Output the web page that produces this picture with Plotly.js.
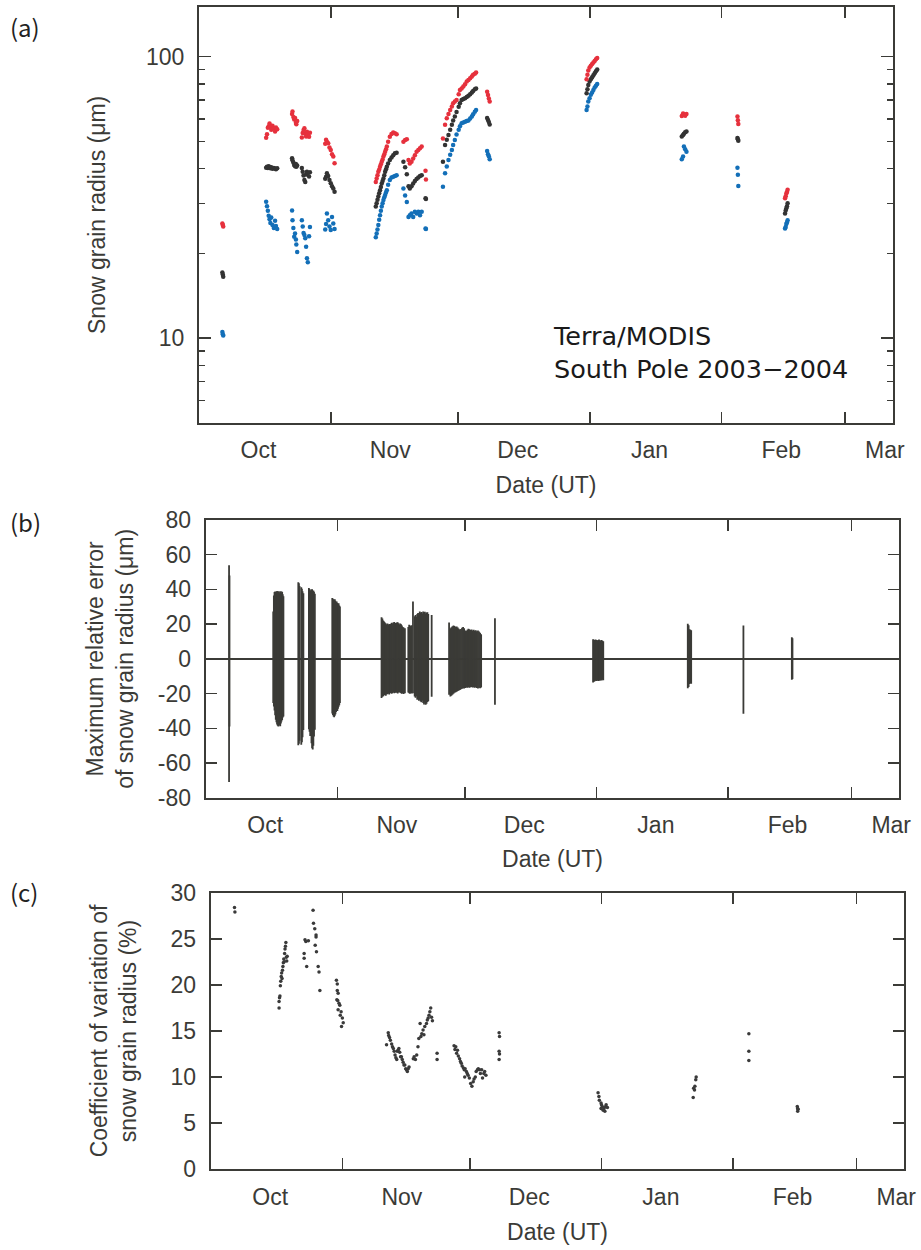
<!DOCTYPE html>
<html><head><meta charset="utf-8">
<script src="https://cdn.plot.ly/plotly-3.0.1.min.js"></script>
<style>html,body{margin:0;padding:0;background:#fff}#chart{width:921px;height:1250px}</style>
</head><body><div id="chart"></div>
<script>
// ---------- axis labels (days since 2003-10-01) ----------
const monthStartDays = [31, 61, 92, 123, 152];           // Nov 1, Dec 1, Jan 1, Feb 1, Mar 1
const monthLabelDays = [14, 45, 75, 106, 137, 161.4];
const monthNames = ['Oct', 'Nov', 'Dec', 'Jan', 'Feb', 'Mar'];
const radiusTickVals = [10, 100];
const radiusTickText = ['10', '100'];
const radiusMinorVals = [6, 7, 8, 9, 20, 30, 40, 50, 60, 70, 80, 90];
const errTickVals = [-80, -60, -40, -20, 0, 20, 40, 60, 80];
const errTickText = ['-80', '-60', '-40', '-20', '0', '20', '40', '60', '80'];
const cvTickVals = [0, 5, 10, 15, 20, 25, 30];
const cvTickText = ['0', '5', '10', '15', '20', '25', '30'];

// ---------- (a) snow grain radius (um) ----------
const aDay = [
  5.5, 5.6, 5.7,
  15.8, 16.0, 16.2, 16.4, 16.6, 16.8, 17.0, 17.3, 17.6, 17.9, 18.1, 18.4,
  21.9, 22.0, 22.2, 22.4, 22.6, 22.8, 22.9, 23.1,
  24.2, 24.4, 24.6, 24.8, 25.0, 25.2, 25.4, 25.6, 25.9, 26.1,
  29.7, 29.9, 30.1, 30.4, 30.7, 31.0, 31.3, 31.6, 31.9,
  41.6, 41.8, 42.0, 42.2, 42.4, 42.6, 42.8, 43.0, 43.2, 43.4, 43.6, 43.8, 44.0, 44.2, 44.5, 44.9, 45.3, 45.7, 46.1, 46.5,
  48.1, 48.5, 48.9, 49.3, 49.6, 50.0, 50.4, 50.8, 51.2, 51.6, 52.0, 52.4, 53.3, 53.4,
  57.4, 57.9, 58.3, 58.7, 59.1, 59.5, 59.8, 60.2, 60.6, 61.1, 61.4, 61.8, 62.2, 62.6, 63.0, 63.4, 63.8, 64.2, 64.5, 64.9, 65.2,
  67.8, 68.0, 68.2, 68.4,
  91.2, 91.4, 91.6, 91.9, 92.2, 92.5, 92.8, 93.1, 93.4, 93.7,
  113.6, 113.9, 114.1, 114.4, 114.7,
  126.7, 126.8, 126.9,
  137.9, 138.05, 138.2, 138.35, 138.5
];
const aUpper = [
  25.5, 25.2, 24.9,
  51.5, 53.0, 55.8, 56.5, 57.8, 56.2, 55.0, 56.8, 55.5, 54.2, 56.0, 55.2,
  62.5, 63.8, 61.0, 59.8, 60.5, 58.2, 57.5, 59.0,
  51.6, 53.5, 54.8, 55.6, 53.2, 52.0, 54.0, 52.8, 51.9, 53.6,
  49.0, 50.6, 49.8, 49.2, 47.5, 46.6, 45.0, 44.1, 41.8,
  35.8, 36.9, 37.9, 39.0, 39.7, 40.6, 41.4, 42.3, 43.1, 44.1, 45.0, 45.9, 46.8, 47.9, 49.8, 51.9, 53.1, 53.7, 53.4, 53.0,
  49.8, 50.5, 50.8, 42.9, 41.7, 42.3, 43.4, 44.6, 45.9, 46.6, 47.2, 47.9, 39.3, 36.6,
  51.2, 57.2, 60.4, 62.5, 64.6, 66.5, 68.2, 69.3, 70.1, 73.5, 76.1, 77.0, 78.2, 79.8, 81.5, 82.6, 83.7, 85.0, 86.1, 86.9, 87.7,
  75.0, 73.0, 71.0, 69.2,
  83.1, 86.1, 89.2, 91.4, 92.7, 94.0, 95.2, 96.5, 97.9, 98.9,
  61.5, 62.8, 62.3, 61.6, 62.5,
  61.2, 59.4, 57.6,
  31.4, 31.9, 32.6, 33.0, 33.6
];
const aRetrieved = [
  17.1, 16.8, 16.5,
  40.3, 40.6, 40.2, 40.8, 40.5, 40.1, 40.4, 39.9, 40.2, 40.0, 39.8, 40.1,
  43.5, 42.8, 42.0, 41.2, 40.8, 41.5, 40.6, 41.0,
  40.2, 39.0, 37.8, 36.4, 35.8, 38.1, 39.0, 38.5, 37.5, 38.8,
  36.8, 37.4, 38.5, 37.6, 36.4, 35.5, 34.6, 34.0, 33.1,
  29.3, 30.1, 31.0, 31.8, 32.7, 33.5, 34.4, 35.4, 36.1, 36.9, 37.9, 39.0, 39.8, 40.6, 41.7, 42.9, 43.8, 44.6, 45.3, 45.5,
  42.3, 40.4, 38.2, 34.6, 34.0, 34.6, 35.4, 36.1, 36.7, 37.2, 37.6, 37.9, 31.4, 31.2,
  42.3, 48.5, 50.6, 52.6, 55.0, 57.2, 59.3, 61.2, 63.5, 66.3, 68.2, 70.1, 70.7, 71.1, 71.8, 72.5, 73.4, 74.5, 75.4, 76.5, 77.0,
  60.5, 59.5, 58.5, 57.3,
  74.1, 76.6, 79.3, 81.5, 83.1, 84.5, 85.9, 87.3, 88.7, 89.9,
  52.0, 52.6, 53.2, 53.8, 54.2,
  51.4, 50.8, 50.2,
  27.7, 28.4, 28.9, 29.4, 30.1
];
const aLower = [
  10.5, 10.3, 10.2,
  30.5, 29.4, 28.3, 27.2, 26.4, 25.6, 26.8, 25.2, 24.6, 26.1, 25.0, 24.4,
  28.4, 26.2, 24.6, 22.9, 23.5, 22.4, 21.5, 20.2,
  26.2, 24.9, 23.6, 23.2, 22.6, 21.1, 19.2, 18.6, 23.0, 24.8,
  24.3, 25.4, 27.7, 26.2, 24.9, 24.2, 26.9, 25.5, 24.4,
  22.8, 23.5, 24.3, 25.2, 26.3, 27.3, 28.3, 29.3, 30.1, 30.9, 31.6, 32.2, 32.9, 33.5, 35.0, 36.4, 37.2, 37.4, 37.6, 37.9,
  34.0, 32.1, 30.4, 26.9, 27.3, 27.7, 26.9, 28.1, 27.7, 28.1, 27.3, 28.1, 24.5, 24.4,
  34.5, 38.5, 40.7, 42.9, 44.8, 46.6, 48.5, 50.5, 52.8, 54.9, 56.5, 57.9, 58.3, 58.7, 59.0, 59.3, 60.2, 61.2, 62.4, 63.7, 64.6,
  46.2, 45.0, 44.2, 43.2,
  64.6, 66.4, 69.2, 71.1, 73.1, 74.5, 76.1, 77.6, 78.7, 79.9,
  43.2, 44.1, 47.9, 46.8, 45.9,
  40.3, 38.0, 34.7,
  24.5, 24.8, 25.4, 25.7, 26.2
];

// ---------- (b) maximum relative error (+ / -) ----------
const bDay = [
  5.5, 5.6,
  15.9, 16.05, 16.2, 16.35, 16.5, 16.65, 16.8, 16.95, 17.1, 17.25, 17.4, 17.55, 17.7, 17.85, 18.0, 18.15, 18.3,
  21.8, 21.95, 22.1, 22.5, 22.65, 22.8, 23.0,
  24.3, 24.45, 24.6, 24.9, 25.05, 25.2, 25.35, 25.5, 25.7,
  29.8, 29.95, 30.1, 30.25, 30.4, 30.55, 30.7, 30.85, 31.0, 31.15, 31.3, 31.45, 31.6,
  41.4, 41.6, 41.8, 42.0, 42.2, 42.4, 42.6, 42.8, 43.0, 43.2, 43.4, 43.6, 43.8, 44.0, 44.2, 44.4, 44.6, 44.8, 45.0, 45.2, 45.4, 45.6, 45.8, 46.0, 46.2, 46.4, 46.6, 46.9,
  47.7, 47.9, 48.1, 48.3, 48.5, 48.8, 49.2, 49.4, 49.6, 49.8, 50.0, 50.2, 50.4, 50.6, 50.8, 51.0, 51.2, 51.4, 51.6, 51.8, 52.0, 52.2, 52.4, 53.2,
  57.3, 57.6, 57.85, 58.1, 58.35, 58.6, 58.85, 59.1, 59.35, 59.6, 59.85, 60.1, 60.35, 60.6, 60.85, 61.1, 61.35, 61.6, 61.85, 62.1, 62.35, 62.6, 62.85, 63.1, 63.35, 63.6, 63.85, 64.1, 64.35, 64.6, 64.85,
  68.1,
  91.2, 91.4, 91.6, 91.8, 92.0, 92.2, 92.4, 92.6, 92.8, 93.0, 93.2, 93.4, 93.6,
  113.5, 113.7, 113.9, 114.1, 114.3,
  126.6,
  138.0, 138.15
];
const bPlus = [
  54.0, 48.0,
  27.3, 36.5, 38.5, 38.8, 37.9, 38.6, 39.1, 38.2, 38.7, 38.9, 37.6, 38.4, 39.0, 38.1, 38.6, 37.2, 36.0,
  44.2, 43.5, 42.0, 41.3, 40.4, 39.0, 37.8,
  40.8, 40.2, 39.5, 39.9, 40.1, 38.8, 39.4, 38.6, 37.5,
  35.0, 34.6, 34.2, 33.9, 34.3, 33.5, 32.8, 33.1, 32.2, 31.6, 32.0, 30.8, 30.2,
  24.0, 23.2, 22.1, 21.5, 21.0, 20.4, 19.8, 20.3, 19.6, 20.1, 19.5, 20.2, 20.8, 20.4, 20.9, 21.3, 20.6, 20.2, 20.9, 21.1, 20.5, 19.8, 20.4, 20.0, 19.2, 18.4, 18.0, 17.6,
  18.4, 19.6, 19.2, 18.8, 19.4, 33.0, 24.6, 25.3, 24.2, 25.8, 26.4, 25.1, 27.3, 26.6, 27.0, 26.1, 27.3, 26.8, 27.1, 26.2, 26.7, 26.9, 25.8, 25.3,
  20.9, 17.7, 18.2, 18.8, 19.2, 18.9, 18.4, 18.7, 18.0, 17.4, 16.8, 17.2, 17.9, 18.3, 17.6, 16.4, 16.1, 16.8, 17.3, 17.1, 16.6, 16.9, 16.4, 16.7, 16.2, 16.5, 15.9, 16.3, 15.8, 15.1, 14.2,
  23.4,
  11.3, 11.0, 10.8, 11.2, 10.9, 10.6, 10.9, 11.1, 10.7, 10.4, 10.8, 10.5, 10.2,
  20.2, 19.4, 17.0, 16.7, 16.5,
  19.2,
  12.5, 11.8
];
const bMinus = [
  71.0, 39.0,
  25.5, 27.4, 29.8, 32.5, 35.1, 36.6, 37.8, 38.5, 39.0, 38.4, 37.9, 38.8, 37.2, 36.1, 35.2, 33.8, 33.2,
  49.8, 48.9, 47.2, 49.5, 48.0, 45.2, 41.0,
  40.5, 42.0, 44.5, 48.7, 51.5, 52.2, 50.1, 44.8, 40.9,
  31.5, 32.4, 33.2, 33.6, 32.8, 31.9, 30.6, 29.4, 30.1, 28.7, 27.6, 26.8, 25.5,
  22.5, 21.8, 21.5, 21.0, 20.8, 21.3, 20.6, 20.2, 19.9, 20.5, 19.8, 19.6, 20.1, 19.7, 19.3, 19.8, 19.5, 19.2, 19.6, 19.9, 19.4, 19.1, 19.5, 19.8, 20.1, 19.7, 20.2, 19.8,
  19.4, 19.8, 20.1, 19.6, 19.9, 19.8, 21.7, 22.4, 21.5, 23.6, 22.8, 24.1, 23.5, 24.6, 25.0, 24.2, 25.5, 26.3, 25.1, 26.5, 25.8, 24.9, 24.4, 21.8,
  20.7, 21.7, 21.2, 20.7, 20.1, 19.6, 19.2, 18.9, 18.5, 18.2, 17.9, 17.5, 17.2, 16.9, 17.1, 16.8, 16.5, 16.7, 16.3, 16.6, 16.4, 16.2, 16.5, 16.3, 16.7, 16.4, 16.8, 17.1, 16.6, 16.9, 16.5,
  26.5,
  13.6, 13.2, 12.9, 12.6, 12.8, 12.4, 12.7, 12.3, 12.6, 12.2, 12.5, 12.1, 12.4,
  16.9, 16.2, 14.5, 14.0, 14.3,
  31.7,
  12.1, 11.6
];

// ---------- (c) coefficient of variation (%) ----------
const cDay = [
  5.6, 5.7,
  16.1, 16.1, 16.2, 16.3, 16.4, 16.5, 16.6, 16.7, 16.8, 16.9, 17.0, 17.1, 17.2, 17.3, 17.4, 17.5, 17.6, 17.7, 17.8, 17.9, 18.0,
  22.0, 22.0, 22.2, 22.4, 22.6, 23.0,
  24.1, 24.2, 24.5, 24.6, 24.8, 24.8, 24.9, 25.3, 25.5, 25.7,
  29.6, 29.7, 29.8, 29.8, 29.9, 30.0, 30.0, 30.2, 30.4, 30.5, 30.7, 30.8, 31.0, 31.2,
  41.4, 41.8, 41.9, 42.1, 42.3, 42.6, 42.8, 43.0, 43.2, 43.4, 43.6, 43.8, 43.9, 44.1, 44.3, 44.5, 44.7, 44.9, 45.1, 45.3, 45.5, 45.7, 45.9, 46.1, 46.3, 46.5, 46.7,
  47.7, 47.9, 48.2, 48.5, 48.8, 49.0, 49.3, 49.5, 49.7, 50.0, 50.2, 50.4, 50.8, 51.0, 51.2, 51.4, 51.6, 51.8, 52.0, 52.2, 53.3, 53.3,
  57.3, 57.5, 57.7, 57.9, 58.1, 58.3, 58.6, 58.8, 59.0, 59.2, 59.5, 59.7, 59.9, 60.2, 60.4, 60.6, 60.9, 61.2, 61.5, 61.8, 62.0, 62.3, 62.5, 62.8, 63.0, 63.3, 63.5, 63.8, 64.0, 64.3, 64.5, 64.8, 59.8,
  67.9, 68.0, 67.9, 68.0, 67.9,
  91.2, 91.4, 91.5, 91.9, 92.0, 92.2, 92.6, 93.0, 92.4, 92.8, 91.9, 93.1, 93.4,
  113.6, 113.7, 113.9, 114.2, 114.3, 114.0,
  126.7, 126.7, 126.7,
  138.1, 138.2, 138.3, 138.2
];
const cCV = [
  28.4, 27.9,
  17.5, 18.2, 18.6, 18.8, 19.9, 20.4, 20.9, 21.3, 20.7, 21.6, 22.0, 22.4, 22.8, 22.5, 23.4, 23.9, 24.2, 24.6, 23.0, 22.6, 23.1,
  23.4, 22.9, 24.9, 24.7, 22.0, 24.8,
  28.1, 26.7, 26.1, 24.3, 25.2, 25.4, 23.6, 22.0, 21.4, 19.4,
  20.5, 18.4, 20.1, 19.4, 18.3, 19.1, 17.3, 18.0, 17.8, 16.7, 17.1, 15.5, 16.4, 15.9,
  13.5, 14.8, 14.5, 14.3, 14.0, 13.6, 13.3, 13.1, 12.8, 12.4, 12.1, 11.9, 12.8, 12.9, 13.1, 12.7, 12.2, 12.2, 11.9, 11.6, 11.3, 11.3, 10.9, 10.8, 10.6, 10.9, 11.1,
  12.0, 12.2, 11.9, 12.4, 13.3, 14.2, 15.8, 14.4, 14.7, 15.1, 14.6, 15.5, 15.8, 16.2, 16.4, 16.7, 17.1, 17.5, 16.5, 16.1, 12.6, 11.9,
  13.4, 13.0, 13.3, 12.6, 12.9, 12.3, 12.0, 11.7, 11.5, 11.2, 11.0, 10.8, 10.9, 10.6, 10.4, 10.2, 9.9, 9.3, 9.0, 9.5, 9.8, 10.0, 10.6, 10.8, 10.9, 10.8, 10.4, 10.8, 9.9, 10.4, 10.6, 10.2, 10.0,
  14.8, 14.4, 12.8, 12.5, 11.9,
  8.3, 7.9, 7.5, 7.2, 7.0, 6.8, 6.6, 6.8, 6.4, 6.3, 6.6, 7.0, 6.7,
  7.8, 8.8, 8.6, 9.7, 10.0, 9.0,
  14.7, 12.8, 11.8,
  6.8, 6.6, 6.5, 6.3
];

// ---------- layout helpers ----------
const W = 921, H = 1250;
const fx = p => p / W;
const fy = p => 1 - p / H;
const INK = '#3b3b37';
const RED = '#e6313d', BLUE = '#136fb8', DARK = '#333333';
const FONT = '"Liberation Sans", Arial, Helvetica, sans-serif';
const JFONT = '"Noto Sans CJK JP", "Noto Sans", sans-serif';
const tickFont = {family: FONT, size: 23, color: INK};
const titleFont = {family: FONT, size: 23, color: INK};
const X_RANGE = [0, 163.3];

function frameX(domain, anchor, standoff) {
  return {domain: domain, anchor: anchor, range: X_RANGE, fixedrange: true,
    tickmode: 'array', tickvals: monthLabelDays, ticktext: monthNames,
    ticks: '', tickfont: tickFont, ticklabelstandoff: 6,
    minor: {tickmode: 'array', tickvals: monthStartDays, ticks: 'inside', ticklen: 11,
            tickwidth: 1.5, tickcolor: INK, showgrid: false},
    showline: true, linewidth: 2, linecolor: INK, mirror: 'ticks',
    showgrid: false, zeroline: false,
    title: {text: 'Date (UT)', font: titleFont, standoff: standoff}};
}
function frameY(domain, anchor) {
  return {domain: domain, anchor: anchor, fixedrange: true,
    ticks: 'inside', ticklen: 11, tickwidth: 1.5, tickcolor: INK,
    showline: true, linewidth: 2, linecolor: INK, mirror: 'ticks',
    showgrid: false, tickfont: tickFont, ticklabelstandoff: 8};
}

const yA = Object.assign(frameY([fy(422.7), fy(7)], 'x'), {
  type: 'log', range: [Math.log10(5), Math.log10(150)],
  tickmode: 'array', tickvals: radiusTickVals, ticktext: radiusTickText, ticklen: 12, zeroline: false,
  minor: {tickmode: 'array', tickvals: radiusMinorVals, ticks: 'inside', ticklen: 6, tickwidth: 1.5, tickcolor: INK, showgrid: false},
  title: {text: 'Snow grain radius (μm)', font: titleFont, standoff: 34}
});
const yB = Object.assign(frameY([fy(797.7), fy(520)], 'x2'), {
  range: [-80, 80], tickmode: 'array', tickvals: errTickVals, ticktext: errTickText,
  zeroline: true, zerolinecolor: INK, zerolinewidth: 1.5,
  title: {text: 'Maximum relative error<br>of snow grain radius (μm)', font: titleFont, standoff: 18}
});
const yC = Object.assign(frameY([fy(1169.3), fy(892.7)], 'x3'), {
  range: [0, 30], tickmode: 'array', tickvals: cvTickVals, ticktext: cvTickText, zeroline: false,
  title: {text: 'Coefficient of variation of<br>snow grain radius (%)', font: titleFont, standoff: 27}
});

const bBase = bDay.map(() => 0);

const traces = [
  {type: 'scatter', mode: 'markers', x: aDay, y: aLower, xaxis: 'x', yaxis: 'y',
   marker: {size: 4.5, color: BLUE}, hoverinfo: 'skip', name: 'lower'},
  {type: 'scatter', mode: 'markers', x: aDay, y: aRetrieved, xaxis: 'x', yaxis: 'y',
   marker: {size: 4.5, color: DARK}, hoverinfo: 'skip', name: 'retrieved'},
  {type: 'scatter', mode: 'markers', x: aDay, y: aUpper, xaxis: 'x', yaxis: 'y',
   marker: {size: 4.5, color: RED}, hoverinfo: 'skip', name: 'upper'},
  {type: 'scatter', mode: 'markers', x: bDay, y: bBase, xaxis: 'x2', yaxis: 'y2',
   marker: {size: 1, color: INK}, hoverinfo: 'skip', name: 'error',
   error_y: {type: 'data', symmetric: false, array: bPlus, arrayminus: bMinus,
             color: INK, thickness: 1.8, width: 0}},
  {type: 'scatter', mode: 'markers', x: cDay, y: cCV, xaxis: 'x3', yaxis: 'y3',
   marker: {size: 3.5, color: '#3a3a3a'}, hoverinfo: 'skip', name: 'cv'}
];

const layout = {
  width: W, height: H, margin: {l: 0, r: 0, t: 0, b: 0},
  paper_bgcolor: '#ffffff', plot_bgcolor: '#ffffff', showlegend: false,
  xaxis: frameX([fx(199), fx(893)], 'y', 15),
  xaxis2: frameX([fx(205.7), fx(899.3)], 'y2', 14),
  xaxis3: frameX([fx(210.7), fx(904.3)], 'y3', 15),
  yaxis: yA, yaxis2: yB, yaxis3: yC,
  annotations: [
    {xref: 'paper', yref: 'paper', x: fx(8), y: fy(26), xanchor: 'left', yanchor: 'middle', showarrow: false,
     text: '(a)', font: {family: JFONT, size: 24, color: '#222'}},
    {xref: 'paper', yref: 'paper', x: fx(8), y: fy(521), xanchor: 'left', yanchor: 'middle', showarrow: false,
     text: '(b)', font: {family: JFONT, size: 24, color: '#222'}},
    {xref: 'paper', yref: 'paper', x: fx(8), y: fy(891), xanchor: 'left', yanchor: 'middle', showarrow: false,
     text: '(c)', font: {family: JFONT, size: 24, color: '#222'}},
    {xref: 'paper', yref: 'paper', x: fx(551), y: fy(352), xanchor: 'left', yanchor: 'middle', align: 'left', showarrow: false,
     text: 'Terra/MODIS<br>South Pole 2003−2004', font: {family: '"DejaVu Sans", sans-serif', size: 25.5, color: '#1a1a1a'}}
  ]
};

Plotly.newPlot('chart', traces, layout, {staticPlot: true, displayModeBar: false});
</script>
</body></html>
